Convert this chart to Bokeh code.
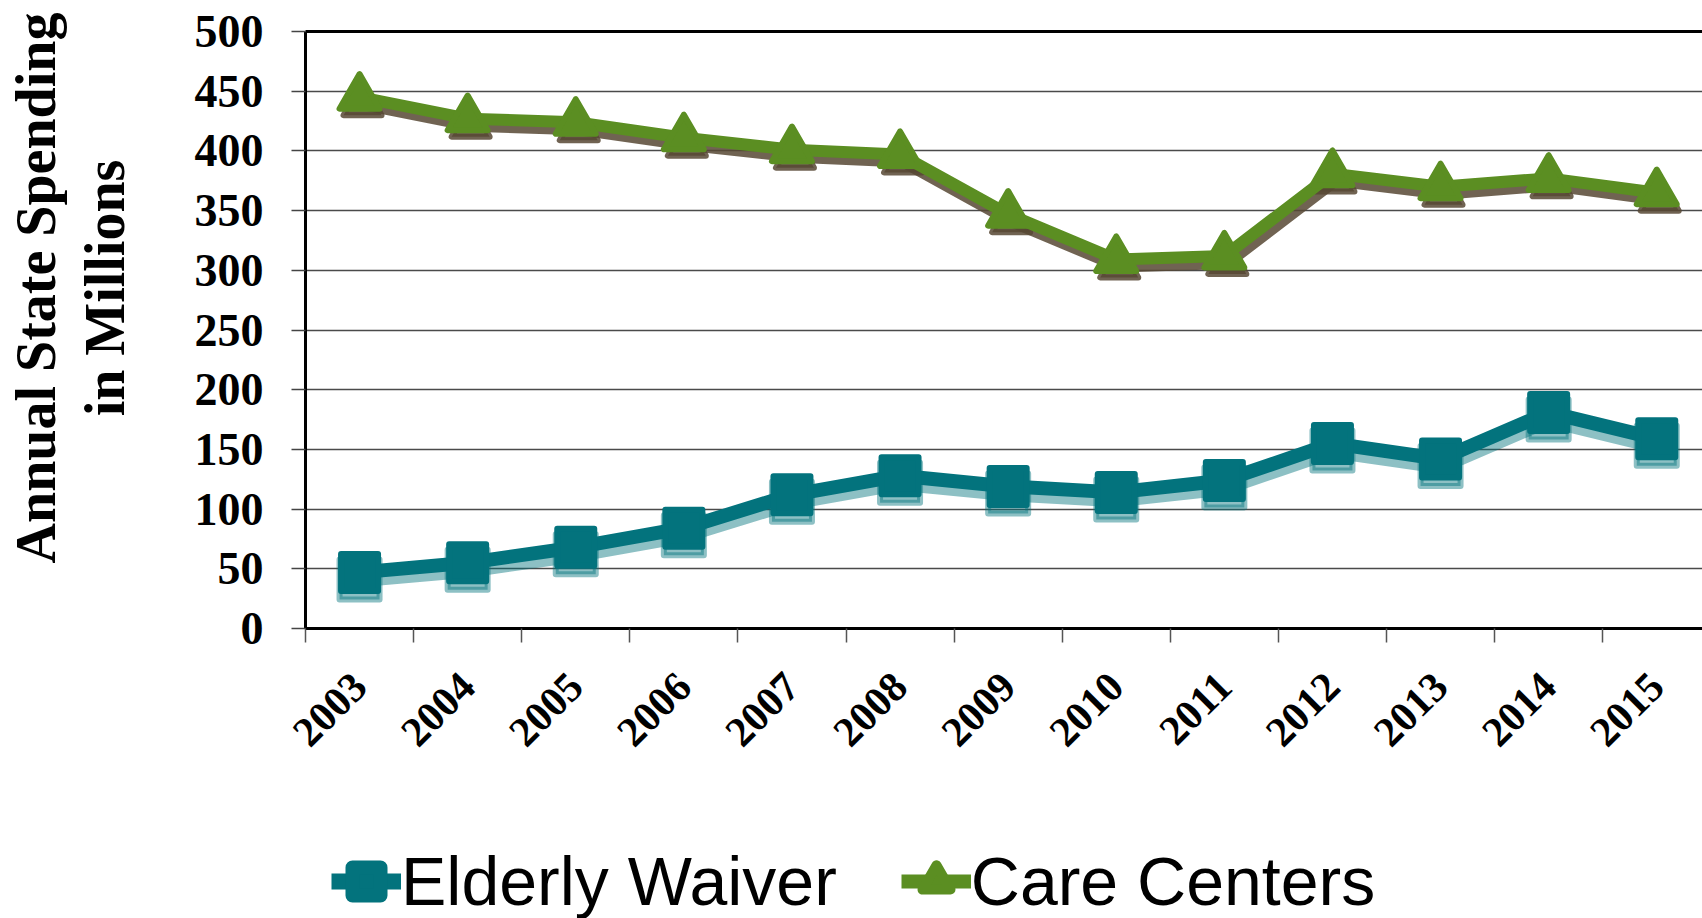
import math
from bokeh.plotting import figure
from bokeh.layouts import column
from bokeh.models import (Range1d, FixedTicker, LinearAxis, Legend, LegendItem,
                          ColumnDataSource)
from bokeh.embed import file_html
from bokeh.resources import INLINE

# ---------------- data ----------------
years = ["2003", "2004", "2005", "2006", "2007", "2008", "2009",
         "2010", "2011", "2012", "2013", "2014", "2015"]
elderly_waiver = [47, 55, 68, 84, 112, 128, 119, 114, 124, 155, 142, 181, 159]
care_centers = [445, 427, 424, 411, 401, 397, 347, 309, 312, 381, 370, 377, 365]
y_ticks = list(range(0, 501, 50))
series_names = ["Elderly Waiver", "Care Centers"]
y_title_lines = ["Annual State Spending", "in Millions"]

# ---------------- styles ----------------
TEAL = "#03737D"
GREEN = "#5B8E22"
GREEN_SHADOW = "#574834"
SERIF = "Liberation Serif"
SANS = "Liberation Sans"

W = 1702
H_MAIN, H_LEG = 780, 138
LEFT, TOP = 305, 31
frame_h = 597
BOTTOM = H_MAIN - TOP - frame_h
frame_w = W - LEFT
cat_px = 108.1
x_end = -0.5 + frame_w / cat_px

# screen-pixel offsets expressed in data units for the drop shadows
dy = 7 * 500 / frame_h
dx = 3 / cat_px

x = list(range(len(years)))
src = ColumnDataSource(dict(
    x=x, ew=elderly_waiver, cc=care_centers,
    xs=[v + dx for v in x],
    ew_s=[v - dy for v in elderly_waiver],
    cc_s=[v - dy for v in care_centers],
))

p = figure(width=W, height=H_MAIN, output_backend="svg", toolbar_location=None,
           x_range=Range1d(-0.5, x_end), y_range=Range1d(0, 500),
           min_border_left=LEFT, min_border_right=0,
           min_border_top=TOP, min_border_bottom=BOTTOM,
           outline_line_color=None, background_fill_color="white",
           border_fill_color="white")

# grid
p.xgrid.visible = False
p.ygrid.ticker = FixedTicker(ticks=y_ticks)
p.ygrid.grid_line_color = "#4a4a4a"
p.ygrid.grid_line_width = 1.5

# y axis
NB = "\u00a0" * 6  # shifts the centred title upwards, as in the original
ya = p.yaxis[0]
ya.ticker = FixedTicker(ticks=y_ticks)
ya.axis_line_color = "black"
ya.axis_line_width = 3
ya.major_tick_line_color = "#444444"
ya.major_tick_line_width = 1.5
ya.major_tick_out = 14
ya.major_tick_in = 0
ya.minor_tick_line_color = None
ya.major_label_text_font = SERIF
ya.major_label_text_font_style = "bold"
ya.major_label_text_font_size = "46px"
ya.major_label_text_color = "black"
ya.major_label_standoff = 28
ya.axis_label = "\n".join(NB + t for t in y_title_lines)
ya.axis_label_text_font = SERIF
ya.axis_label_text_font_style = "bold"
ya.axis_label_text_font_size = "56px"
ya.axis_label_text_line_height = 1.1
ya.axis_label_text_color = "black"
ya.axis_label_standoff = 56

# x axis
xa = p.xaxis[0]
xa.ticker = FixedTicker(ticks=x, minor_ticks=[i - 0.5 for i in range(len(years) + 1)])
xa.major_label_overrides = {i: y for i, y in enumerate(years)}
xa.major_label_orientation = math.pi / 4
xa.axis_line_color = "black"
xa.axis_line_width = 3
xa.major_tick_line_color = None
xa.minor_tick_line_color = "#555555"
xa.minor_tick_line_width = 1.5
xa.minor_tick_out = 14
xa.minor_tick_in = 0
xa.major_label_text_font = SERIF
xa.major_label_text_font_style = "bold"
xa.major_label_text_font_size = "42px"
xa.major_label_text_color = "black"
xa.major_label_standoff = 37

# top border line
top_axis = LinearAxis(ticker=FixedTicker(ticks=[]), axis_line_color="black",
                      axis_line_width=3, major_tick_line_color=None,
                      minor_tick_line_color=None, major_label_text_font_size="0px")
p.add_layout(top_axis, "above")

# shadows
p.line("xs", "cc_s", source=src, line_color=GREEN_SHADOW, line_width=12,
       line_alpha=0.85, line_join="round")
p.scatter("xs", "cc_s", source=src, marker="triangle", size=38,
          fill_color=GREEN_SHADOW, line_color=GREEN_SHADOW, line_width=6,
          line_join="round", alpha=0.85)
p.line("x", "ew_s", source=src, line_color=TEAL, line_width=16,
       line_alpha=0.45, line_join="round")
p.scatter("x", "ew_s", source=src, marker="square", size=40,
          fill_color=TEAL, line_color=TEAL, line_width=6, line_join="round",
          alpha=0.45)

# series
p.line("x", "ew", source=src, line_color=TEAL, line_width=14, line_join="round")
p.scatter("x", "ew", source=src, marker="square", size=37, fill_color=TEAL,
          line_color=TEAL, line_width=6, line_join="round")
p.line("x", "cc", source=src, line_color=GREEN, line_width=12, line_join="round")
p.scatter("x", "cc", source=src, marker="triangle", size=40, fill_color=GREEN,
          line_color=GREEN, line_width=6, line_join="round")

# ---------------- legend strip ----------------
# (its frame is aligned with the chart's frame by the column layout)
lg = figure(width=W, height=H_LEG, output_backend="svg", toolbar_location=None,
            x_axis_type=None, y_axis_type=None, x_range=Range1d(0, 1),
            y_range=Range1d(0, 1), min_border=0, outline_line_color=None,
            background_fill_color="white", border_fill_color="white")
lg.xgrid.visible = False
lg.ygrid.visible = False
nan = float("nan")
key_src = ColumnDataSource(dict(x=[nan], y=[nan]))
l1 = lg.line("x", "y", source=key_src, line_color=TEAL, line_width=16)
m1 = lg.scatter("x", "y", source=key_src, marker="square", fill_color=TEAL,
                line_color=TEAL, line_width=14, line_join="round")
l2 = lg.line("x", "y", source=key_src, line_color=GREEN, line_width=14)
m2 = lg.scatter("x", "y", source=key_src, marker="triangle", fill_color=GREEN,
                line_color=GREEN, line_width=10, line_join="round")
legend = Legend(items=[
    LegendItem(label=series_names[0], renderers=[l1, m1]),
    LegendItem(label=series_names[1], renderers=[l2, m2]),
], orientation="horizontal", location=(26, -3),
    label_text_font=SANS, label_text_font_size="68px", label_text_color="black",
    glyph_width=70, glyph_height=80, label_height=80, label_standoff=0,
    spacing=64, padding=0, margin=0, border_line_color=None,
    background_fill_alpha=0)
lg.add_layout(legend, "center")

layout = column(p, lg, spacing=0)
open("out.html", "w").write(file_html(layout, INLINE))
